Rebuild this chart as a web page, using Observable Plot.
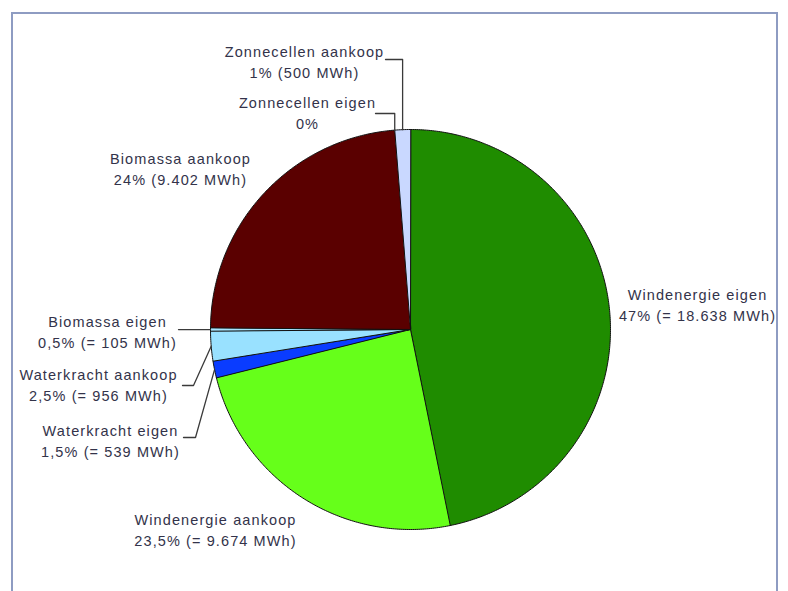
<!DOCTYPE html>
<html>
<head>
<meta charset="utf-8">
<script src="https://cdn.jsdelivr.net/npm/d3@7"></script>
<script src="https://cdn.jsdelivr.net/npm/@observablehq/plot@0.6"></script>
<style>
  html, body { margin: 0; padding: 0; background: #fff; }
  #wrap { position: relative; width: 788px; height: 591px; overflow: hidden; }
  #border { position: absolute; left: 11px; top: 12px; width: 767px; height: 600px;
            border: 2px solid #8e9cc2; box-sizing: border-box; pointer-events: none; }
</style>
</head>
<body>
<div id="wrap"><div id="chart"></div><div id="border"></div></div>
<script>
// ---- data (clockwise from 12 o'clock) ----
const categories = ["Windenergie eigen", "Windenergie aankoop", "Waterkracht eigen", "Waterkracht aankoop",
                    "Biomassa eigen", "Biomassa aankoop", "Zonnecellen eigen", "Zonnecellen aankoop"];
const mwh = [18638, 9674, 539, 956, 105, 9402, 0, 500];
const valueLabels = ["47% (= 18.638 MWh)", "23,5% (= 9.674 MWh)", "1,5% (= 539 MWh)", "2,5% (= 956 MWh)",
                     "0,5% (= 105 MWh)", "24% (9.402 MWh)", "0%", "1% (500 MWh)"];
const sliceColors = ["#1f8c00", "#66ff1a", "#0a3cff", "#99e1ff", "#a6e6ff", "#5a0000", "#d0dcff", "#c9d8ff"];

// ---- layout ----
const W = 788, H = 591;
const cx = 410, cy = 329, R = 200;
const labelPos = [[697, 303], [215, 528], [110, 439], [98, 383], [107, 330], [180, 167], [307, 111], [304, 60]];
// leader lines: [index, startX, startY, elbowX or null(-> use slice x), hasElbow]
const leaders = [
  {i: 2, pts: [[183, 437], [195, 437]]},
  {i: 3, pts: [[182, 385], [193, 385]]},
  {i: 4, pts: [[178, null]]},
  {i: 6, pts: [[375, 113], ["end", 113]]},
  {i: 7, pts: [[385, 59], ["end", 59]]}
];

const arcs = d3.pie().sort(null).value(d => d)(mwh);

// slice polygons
const slicePts = [];
arcs.forEach((a, i) => {
  if (a.endAngle - a.startAngle <= 0) return;
  const n = Math.max(2, Math.ceil((a.endAngle - a.startAngle) / 0.01));
  slicePts.push({name: categories[i], color: sliceColors[i], x: cx, y: cy});
  for (let k = 0; k <= n; k++) {
    const t = a.startAngle + (a.endAngle - a.startAngle) * k / n;
    slicePts.push({name: categories[i], color: sliceColors[i], x: cx + R * Math.sin(t), y: cy - R * Math.cos(t)});
  }
});

// leader line points
const leaderPts = [];
leaders.forEach(l => {
  const a = arcs[l.i];
  const m = (a.startAngle + a.endAngle) / 2;
  const ex = cx + R * Math.sin(m), ey = cy - R * Math.cos(m);
  l.pts.forEach(([x, y]) => {
    leaderPts.push({k: l.i, x: x === "end" ? ex : x, y: y === null ? ey : y});
  });
  leaderPts.push({k: l.i, x: ex, y: ey});
});

const labels = categories.map((c, i) => ({text: c + "\n" + valueLabels[i], x: labelPos[i][0], y: labelPos[i][1]}));

const chart = Plot.plot({
  width: W, height: H,
  margin: 0,
  x: {domain: [0, W], range: [0, W], axis: null},
  y: {domain: [0, H], range: [0, H], axis: null},
  color: {type: "identity"},
  style: {fontFamily: "'Liberation Sans', Arial, sans-serif", letterSpacing: "1.1px", background: "transparent"},
  marks: [
    Plot.line(slicePts, {x: "x", y: "y", z: "name", fill: "color", stroke: "#111", strokeWidth: 1, curve: "linear-closed"}),
    Plot.line(leaderPts, {x: "x", y: "y", z: "k", stroke: "#3a3a3a", strokeWidth: 1.3}),
    Plot.text(labels, {x: "x", y: "y", text: "text", textAnchor: "middle", lineAnchor: "middle",
                       fontSize: 14.5, lineHeight: 1.48, fill: "#33334a"})
  ]
});
document.getElementById("chart").appendChild(chart);
</script>
</body>
</html>
